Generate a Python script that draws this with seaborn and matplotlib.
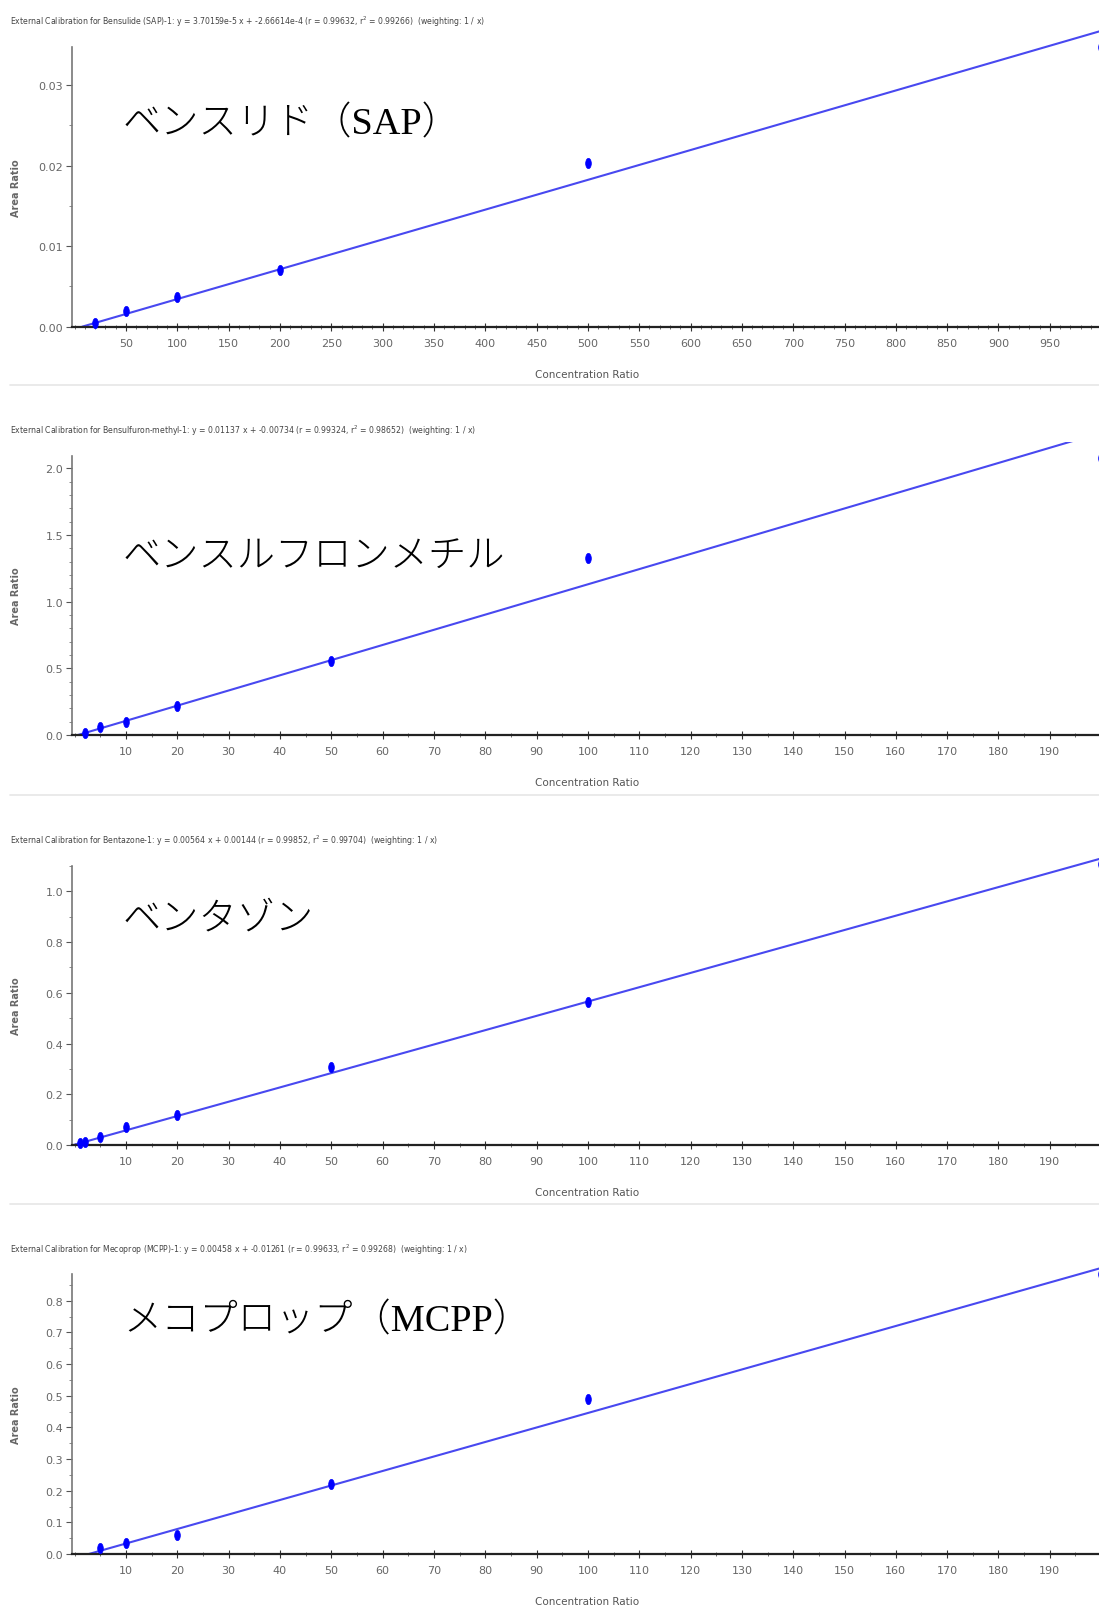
import numpy as np
import pandas as pd
import matplotlib
matplotlib.use("Agg")
import matplotlib.pyplot as plt
from matplotlib.path import Path
from matplotlib.ticker import MultipleLocator, FixedLocator
import seaborn as sns

sns.set_theme(style="white")
plt.rcParams['font.family'] = ['DejaVu Sans', 'Noto Sans CJK JP']

# ---------------- data ----------------
titles = [
    "External Calibration for Bensulide (SAP)-1: y = 3.70159e-5 x + -2.66614e-4 (r = 0.99632, r$^2$ = 0.99266)  (weighting: 1 / x)",
    "External Calibration for Bensulfuron-methyl-1: y = 0.01137 x + -0.00734 (r = 0.99324, r$^2$ = 0.98652)  (weighting: 1 / x)",
    "External Calibration for Bentazone-1: y = 0.00564 x + 0.00144 (r = 0.99852, r$^2$ = 0.99704)  (weighting: 1 / x)",
    "External Calibration for Mecoprop (MCPP)-1: y = 0.00458 x + -0.01261 (r = 0.99633, r$^2$ = 0.99268)  (weighting: 1 / x)",
]
jp_labels = ["ベンスリド（SAP）", "ベンスルフロンメチル", "ベンタゾン", "メコプロップ（MCPP）"]

sap_x = [20, 50, 100, 200, 500, 1000]
sap_y = [0.0005, 0.0019, 0.0037, 0.0070, 0.0203, 0.0348]
bsm_x = [2, 5, 10, 20, 50, 100, 200]
bsm_y = [0.015, 0.058, 0.098, 0.22, 0.558, 1.325, 2.08]
bz_x = [1, 2, 5, 10, 20, 50, 100, 200]
bz_y = [0.008, 0.012, 0.030, 0.070, 0.118, 0.307, 0.565, 1.106]
mc_x = [5, 10, 20, 50, 100, 200]
mc_y = [0.018, 0.035, 0.061, 0.221, 0.49, 0.884]

slopes = [3.70159e-5, 0.01137, 0.00564, 0.00458]
intercepts = [-2.66614e-4, -0.00734, 0.00144, -0.01261]

xs = [sap_x, bsm_x, bz_x, mc_x]
ys = [sap_y, bsm_y, bz_y, mc_y]

ytick_major = [[0.0, 0.01, 0.02, 0.03], [0.0, 0.5, 1.0, 1.5, 2.0],
               [0.0, 0.2, 0.4, 0.6, 0.8, 1.0],
               [0.0, 0.1, 0.2, 0.3, 0.4, 0.5, 0.6, 0.7, 0.8]]
ytick_fmt = ["{:.2f}", "{:.1f}", "{:.1f}", "{:.1f}"]
ytick_minor = [0.005, 0.1, 0.1, 0.05]
xtick_major = [list(range(50, 1000, 50)), list(range(10, 200, 10)),
               list(range(10, 200, 10)), list(range(10, 200, 10))]
xtick_minor = [10, 5, 5, 5]

# ---------------- layout (pixels) ----------------
W, H = 1099, 1606
fig = plt.figure(figsize=(W / 100, H / 100), dpi=100)

px_zero = [327.7, 736.0, 1146.0, 1555.0]
px_unit_y = [8050.0, 133.4, 253.7, 316.6]
px_top = [30.0, 443.0, 853.0, 1262.0]
spine_top = [0.03475, 2.094, 1.10, 0.884]
px_unit_x = [1.0264, 5.132, 5.132, 5.132]
x0_px = 74.7
left_px = 71.5
right_px = 1120.0
title_y = [22, 431, 841, 1250]
jp_y = [124, 558, 920, 1321]
sep_y = [386, 796, 1205]

ell = Path.unit_circle()
ell = Path(ell.vertices * np.array([0.55, 1.0]), ell.codes)

blue_pt = "#0000ff"
blue_ln = "#4848f0"

for i in range(4):
    ymax = (px_zero[i] - px_top[i]) / px_unit_y[i]
    xl = (left_px - x0_px) / px_unit_x[i]
    xr = (right_px - x0_px) / px_unit_x[i]
    ax = fig.add_axes([left_px / W, 1 - px_zero[i] / H,
                       (right_px - left_px) / W, (px_zero[i] - px_top[i]) / H])
    ax.set_facecolor("none")
    ax.set_xlim(xl, xr)
    ax.set_ylim(0, ymax)

    a, b = slopes[i], intercepts[i]
    xstart = max(-b / a, xl)
    xend = max(xs[i])
    line_df = pd.DataFrame({"x": [xstart, xend], "y": [a * xstart + b, a * xend + b]})
    sns.lineplot(data=line_df, x="x", y="y", ax=ax, color=blue_ln, lw=1.5)

    df = pd.DataFrame({"x": xs[i], "y": ys[i]})
    sns.scatterplot(data=df, x="x", y="y", ax=ax, color=blue_pt, marker=ell,
                    s=55, edgecolor=blue_pt, linewidth=0.5, clip_on=False, zorder=5)

    for s in ["top", "right"]:
        ax.spines[s].set_visible(False)
    ax.spines["left"].set_bounds(0, spine_top[i])
    ax.spines["left"].set_color("#777777")
    ax.spines["left"].set_linewidth(1.2)
    ax.spines["bottom"].set_color("#222222")
    ax.spines["bottom"].set_linewidth(1.6)

    ax.yaxis.set_major_locator(FixedLocator(ytick_major[i]))
    ax.set_yticklabels([ytick_fmt[i].format(v) for v in ytick_major[i]])
    nminor = int(np.floor(spine_top[i] / ytick_minor[i] + 1e-9))
    ax.yaxis.set_minor_locator(FixedLocator([k * ytick_minor[i] for k in range(nminor + 1)]))
    ax.xaxis.set_major_locator(FixedLocator(xtick_major[i]))
    ax.xaxis.set_minor_locator(MultipleLocator(xtick_minor[i]))
    ax.tick_params(axis="y", which="major", left=True, direction="out", length=4,
                   width=0.8, color="#555555", labelsize=8, labelcolor="#666666", pad=2)
    ax.tick_params(axis="y", which="minor", left=True, direction="out", length=2,
                   width=0.6, color="#777777")
    ax.tick_params(axis="x", which="major", bottom=True, direction="inout", length=6,
                   width=0.8, color="#333333", labelsize=8, labelcolor="#666666", pad=5)
    ax.tick_params(axis="x", which="minor", bottom=True, direction="inout", length=3,
                   width=0.6, color="#555555")
    ax.set_xlabel("")
    ax.set_ylabel("")
    ax.grid(False)

    fig.text(10 / W, 1 - title_y[i] / H, titles[i], fontsize=5.6, color="#444444",
             va="center", ha="left")
    fig.text(587 / W, 1 - (px_zero[i] + 47) / H, "Concentration Ratio", fontsize=7.5,
             color="#555555", va="center", ha="center")
    yc = (px_zero[i] + (px_zero[i] - spine_top[i] * px_unit_y[i])) / 2
    fig.text(16 / W, 1 - yc / H, "Area Ratio", fontsize=7, color="#666666",
             rotation=90, va="center", ha="center", fontweight="bold")
    fig.text(123 / W, 1 - jp_y[i] / H, jp_labels[i], fontsize=27.5, color="black",
             va="center", ha="left",
             family=["Liberation Serif", "Noto Sans CJK JP"], fontweight="light")

for y in sep_y:
    fig.add_artist(plt.Line2D([10 / W, 1.0], [1 - y / H, 1 - y / H],
                              transform=fig.transFigure, color="#e6e6e6", lw=1.2))

fig.savefig("out.png", dpi=100)
